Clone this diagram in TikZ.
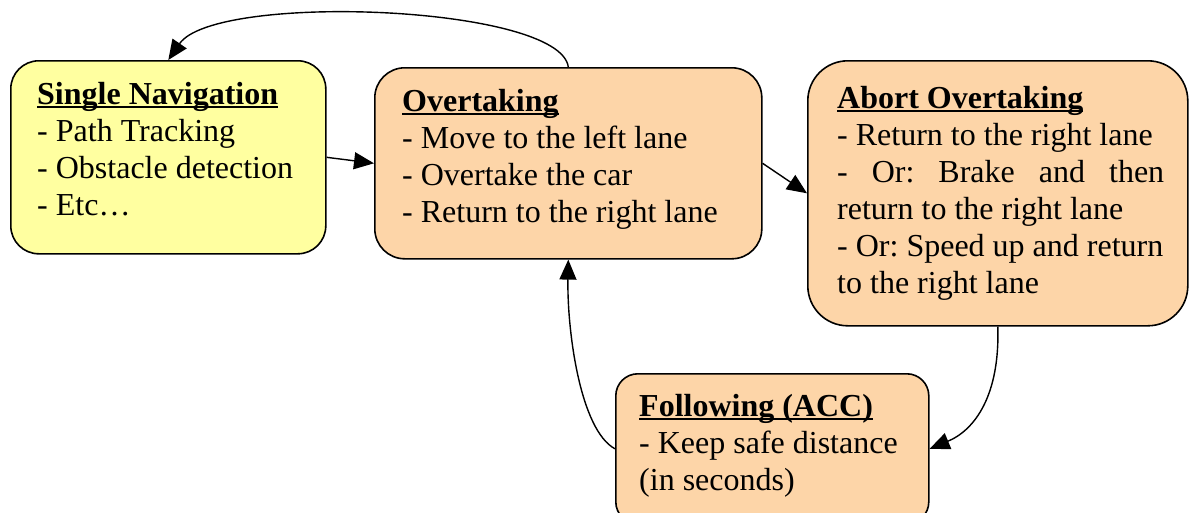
\documentclass[tikz,border=0pt]{standalone}
\usepackage{fontspec}
\setmainfont{Liberation Serif}
\usetikzlibrary{arrows.meta,calc}

\definecolor{navyellow}{RGB}{255,255,160}
\definecolor{statepeach}{RGB}{253,213,168}

% body font of the boxes
\newcommand\boxfont{\fontsize{32}{37}\selectfont\frenchspacing}
% normal quarter-em word spaces, stretchable for the spread line
\newcommand\wordspaces{\spaceskip=0.25em plus 0.5em minus 0.05em\relax
  \xspaceskip=\spaceskip}

% bold heading with a Word-style underline drawn just below the baseline
\newcommand\titleul[1]{\leavevmode\setbox0\hbox{\bfseries #1}\rlap{\rule[-4pt]{\wd0}{2.2pt}}\box0}

\begin{document}
\begin{tikzpicture}[x=1pt,y=-1pt,
  statebox/.style={draw=black, line width=1.6pt, rounded corners=#1,
    inner sep=0pt, anchor=north west},
  bodytext/.style={anchor=base west, inner sep=0pt,
    text width=#1, font=\boxfont},
  link/.style={line width=1.4pt, -{Triangle[length=20pt,width=17pt]}}
]
\useasboundingbox (0,0) rectangle (1189,512);

% state boxes
\node[statebox=28, fill=navyellow, minimum width=315pt, minimum height=193pt]
  (sn) at (10,60) {};
\node[statebox=30, fill=statepeach, minimum width=387pt, minimum height=191pt]
  (ov) at (374,67) {};
\node[statebox=40, fill=statepeach, minimum width=380pt, minimum height=265pt]
  (ab) at (807,60) {};
\node[statebox=22, fill=statepeach, minimum width=313pt, minimum height=150pt]
  (fo) at (615,373) {};

% box texts
\node[bodytext=280pt] (snT) at (37,104)
  {\wordspaces\titleul{Single Navigation}\\- Path Tracking\\- Obstacle detection\\- Etc…};
\node[bodytext=340pt] (ovT) at (402,111)
  {\wordspaces\titleul{Overtaking}\\- Move to the left lane\\- Overtake the car\\- Return to the right lane};
\node[bodytext=340pt] (abT) at (837,108)
  {\wordspaces\titleul{Abort Overtaking}\\- Return to the right lane\\
   \makebox[327pt][s]{- Or: Brake and then}\\return to the right lane\\
   - Or: Speed up and return\\to the right lane};
\node[bodytext=280pt] (foT) at (639,416)
  {\wordspaces\titleul{Following (ACC)}\\- Keep safe distance\\(in seconds)};

% transitions
\draw[link] (ov.north) .. controls (560,5) and (215,-8) .. (sn.north);
\draw[link] (sn.east) -- (ov.west);
\draw[link] (ov.east) -- (ab.west);
\draw[link] (ab.south) .. controls (1000,395) and (975,430) .. (fo.east);
\draw[link] (fo.west) .. controls (580,430) and (567,330) .. (ov.south);
\end{tikzpicture}
\end{document}
